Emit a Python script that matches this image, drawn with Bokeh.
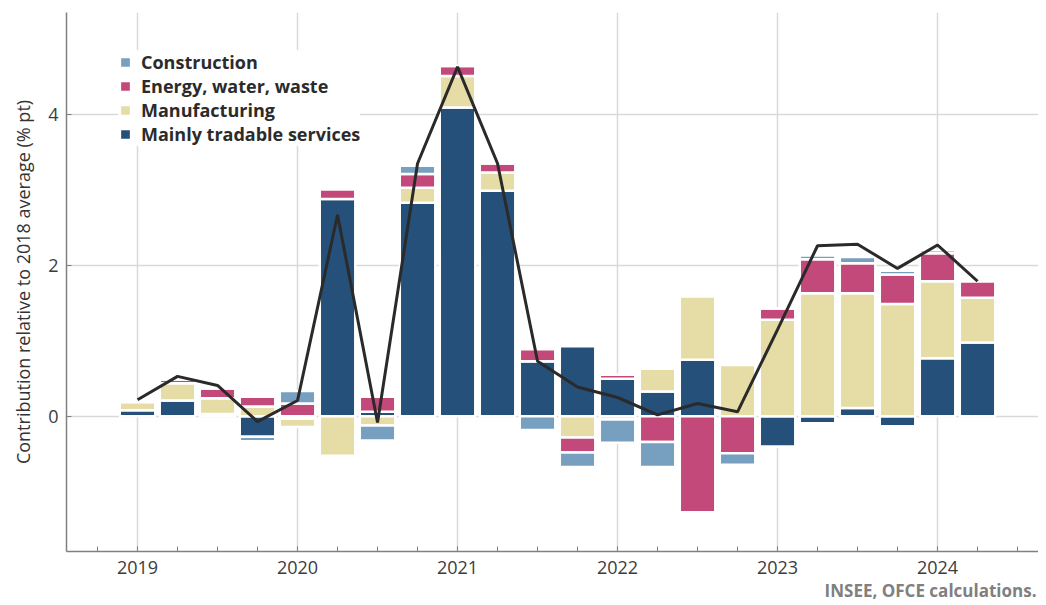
import math
from bokeh.plotting import figure
from bokeh.models import (ColumnDataSource, Range1d, FixedTicker, Legend, LegendItem, Title)
from bokeh.embed import file_html
from bokeh.resources import INLINE

# ---------------- data ----------------
quarters = ["2019Q1", "2019Q2", "2019Q3", "2019Q4",
            "2020Q1", "2020Q2", "2020Q3", "2020Q4",
            "2021Q1", "2021Q2", "2021Q3", "2021Q4",
            "2022Q1", "2022Q2", "2022Q3", "2022Q4",
            "2023Q1", "2023Q2", "2023Q3", "2023Q4",
            "2024Q1", "2024Q2"]

services = [0.08, 0.21, 0.03, -0.27, -0.03, 2.88, 0.06, 2.83, 4.09, 2.99, 0.73,
            0.93, 0.50, 0.33, 0.75, 0.00, -0.40, -0.09, 0.11, -0.13, 0.77, 0.98]
manufacturing = [0.11, 0.23, 0.21, 0.13, -0.11, -0.52, -0.12, 0.20, 0.42, 0.24, 0.00,
                 -0.28, -0.04, 0.30, 0.84, 0.68, 1.28, 1.63, 1.52, 1.49, 1.02, 0.59]
energy = [0.00, 0.05, 0.13, 0.13, 0.17, 0.13, 0.20, 0.18, 0.13, 0.12, 0.16,
          -0.20, 0.05, -0.34, -1.27, -0.49, 0.15, 0.45, 0.40, 0.39, 0.37, 0.22]
construction = [0.02, 0.00, 0.00, -0.06, 0.165, 0.00, -0.20, 0.11, 0.00, 0.00, -0.18,
                -0.19, -0.31, -0.33, 0.00, -0.15, 0.00, 0.05, 0.08, 0.05, 0.04, 0.00]
total = [0.22, 0.53, 0.41, -0.07, 0.21, 2.67, -0.08, 3.35, 4.63, 3.35, 0.73,
         0.39, 0.25, 0.02, 0.17, 0.06, 1.15, 2.26, 2.28, 1.96, 2.27, 1.79]

series_names = ["Mainly tradable services", "Manufacturing", "Energy, water, waste", "Construction"]
series_values = [services, manufacturing, energy, construction]
series_colors = ["#245079", "#E6DCA5", "#C4497B", "#769FC0"]

year_ticks = [2019, 2020, 2021, 2022, 2023, 2024]
y_ticks = [0, 2, 4]

# ---------------- derived positions ----------------
x = [int(q[:4]) + (int(q[-1]) - 1) / 4 for q in quarters]

pos_base = [0.0] * len(x)
neg_base = [0.0] * len(x)
stacks = []
for vals in series_values:
    tops, bottoms = [], []
    for i, v in enumerate(vals):
        if v >= 0:
            bottoms.append(pos_base[i]); tops.append(pos_base[i] + v); pos_base[i] += v
        else:
            tops.append(neg_base[i]); bottoms.append(neg_base[i] + v); neg_base[i] += v
    stacks.append((tops, bottoms))

# ---------------- figure ----------------
p = figure(width=1038, height=603, output_backend="svg", toolbar_location=None,
           x_range=Range1d(2018.556, 2024.631), y_range=Range1d(-1.79, 5.35),
           min_border_left=66, min_border_right=0, min_border_top=12, min_border_bottom=52)
p.outline_line_color = None
p.background_fill_color = "white"

renderers = {}
for name, (tops, bottoms), color in zip(series_names, stacks, series_colors):
    src = ColumnDataSource(dict(x=x, top=tops, bottom=bottoms))
    r = p.vbar(x="x", top="top", bottom="bottom", width=0.222, source=src,
               fill_color=color, line_color="white", line_width=2.5)
    renderers[name] = r

p.line(x, total, line_color="#2a2a2a", line_width=3)

# axes
font = "Open Sans"
p.xaxis.ticker = FixedTicker(ticks=year_ticks, minor_ticks=[t / 4 for t in range(2018 * 4, 2025 * 4 + 1)])
p.yaxis.ticker = FixedTicker(ticks=y_ticks, minor_ticks=[])
for ax in (p.xaxis[0], p.yaxis[0]):
    ax.axis_line_color = "#808080"
    ax.axis_line_width = 1.5
    ax.major_tick_line_color = "#808080"
    ax.minor_tick_line_color = "#808080"
    ax.major_tick_in = 5
    ax.major_tick_out = 0
    ax.minor_tick_in = 5
    ax.minor_tick_out = 0
    ax.major_label_text_font = font
    ax.major_label_text_font_size = "18px"
    ax.major_label_text_color = "#3c3c3c"
p.xaxis.major_label_standoff = 9
p.yaxis.major_label_standoff = 8
p.yaxis.minor_tick_line_color = None

p.yaxis.axis_label = "Contribution relative to 2018 average (% pt)"
p.yaxis.axis_label_text_font = font
p.yaxis.axis_label_text_font_size = "18px"
p.yaxis.axis_label_text_font_style = "normal"
p.yaxis.axis_label_text_color = "#333333"
p.yaxis.axis_label_standoff = 10

p.xgrid.ticker = FixedTicker(ticks=year_ticks)
p.ygrid.ticker = FixedTicker(ticks=y_ticks)
p.xgrid.grid_line_color = "#d9d9d9"
p.ygrid.grid_line_color = "#d9d9d9"
p.xgrid.grid_line_width = 1.5
p.ygrid.grid_line_width = 1.5

# legend
order = ["Construction", "Energy, water, waste", "Manufacturing", "Mainly tradable services"]
legend = Legend(items=[LegendItem(label=n, renderers=[renderers[n]]) for n in order],
                location=(52, 405), orientation="vertical",
                label_text_font=font, label_text_font_size="18px", label_text_font_style="bold",
                label_text_color="#2b2b2b", glyph_width=14, glyph_height=14,
                label_standoff=9, spacing=0, padding=2, margin=0,
                background_fill_color="white", background_fill_alpha=1.0,
                border_line_color=None)
p.add_layout(legend, "center")

# source caption
caption = Title(text="INSEE, OFCE calculations.", align="right", text_font=font,
                text_font_size="17px", text_font_style="bold", text_color="#808080",
                offset=2, standoff=0)
p.add_layout(caption, "below")

open("out.html", "w").write(file_html(p, INLINE))
